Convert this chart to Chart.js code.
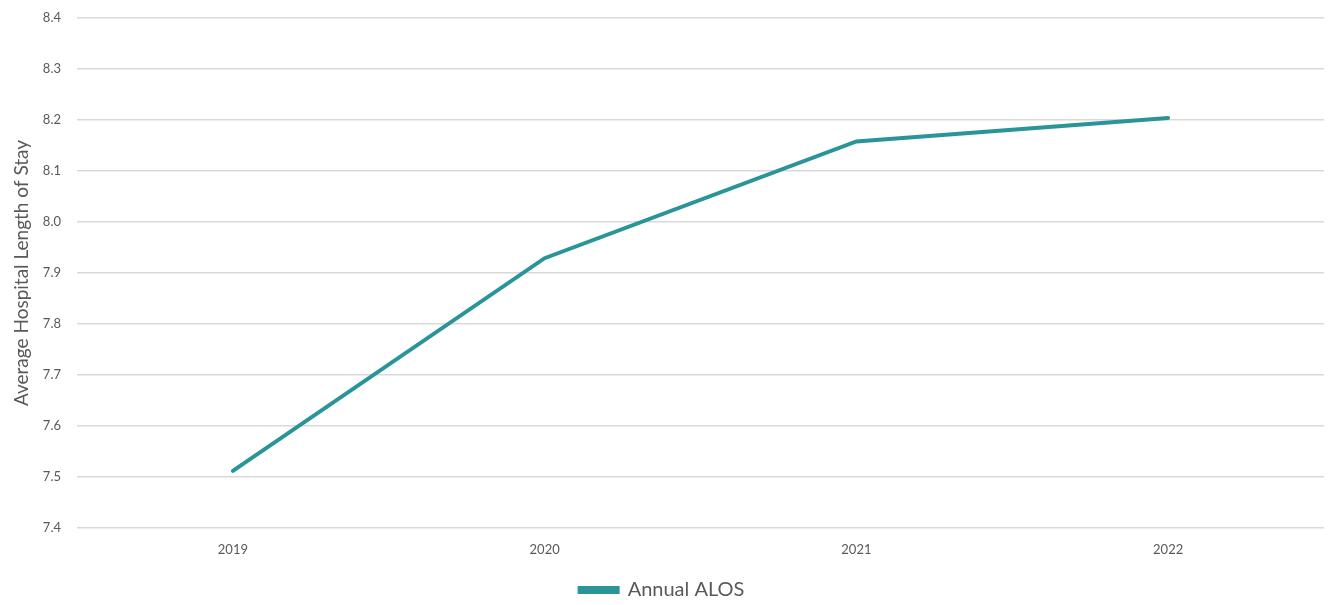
<!DOCTYPE html>
<html>
<head>
<meta charset="utf-8">
<script src="https://cdn.jsdelivr.net/npm/chart.js@4.4.1/dist/chart.umd.min.js"></script>
<style>
  html, body { margin: 0; padding: 0; background: #fff; }
  #wrap { width: 1337px; height: 605px; }
</style>
</head>
<body>
<div id="wrap"><canvas id="chart"></canvas></div>
<script>
// data
const years = ['2019', '2020', '2021', '2022'];
const alos = [7.512, 7.929, 8.158, 8.204];
const yMin = 7.4, yMax = 8.4, yStep = 0.1;

const teal = '#2A9599';
const textGray = '#595959';

new Chart(document.getElementById('chart'), {
    type: 'line',
    data: {
        labels: years,
        datasets: [{
            label: 'Annual ALOS',
            data: alos,
            borderColor: teal,
            backgroundColor: teal,
            borderWidth: 4,
            pointRadius: 0,
            tension: 0,
            borderCapStyle: 'round'
        }]
    },
    options: {
        responsive: true,
        maintainAspectRatio: false,
        animation: false,
        layout: { padding: { top: 18, right: 13, bottom: -5, left: 0 } },
        plugins: {
            legend: {
                position: 'bottom',
                labels: {
                    boxWidth: 38,
                    boxHeight: 4,
                    padding: 4,
                    color: textGray,
                    font: { family: 'Lato', size: 20 }
                }
            },
            tooltip: { enabled: false }
        },
        scales: {
            x: {
                offset: true,
                grid: { display: false },
                border: { display: false },
                ticks: { color: textGray, padding: 6, font: { family: 'Lato', size: 13 } },
                afterFit: s => { s.height = 48; }
            },
            y: {
                min: yMin,
                max: yMax,
                grid: { color: '#D9D9D9', lineWidth: 1.5, drawTicks: false },
                border: { display: false },
                ticks: {
                    stepSize: yStep,
                    padding: 16,
                    color: textGray,
                    font: { family: 'Lato', size: 13 },
                    callback: v => v.toFixed(1)
                },
                title: {
                    display: true,
                    text: 'Average Hospital Length of Stay',
                    color: textGray,
                    padding: { top: 10, bottom: 0 },
                    font: { family: 'Lato', size: 19 }
                },
                afterFit: s => { s.width = 77; s.paddingTop = 0; s.paddingBottom = 0; }
            }
        }
    }
});
</script>
</body>
</html>
